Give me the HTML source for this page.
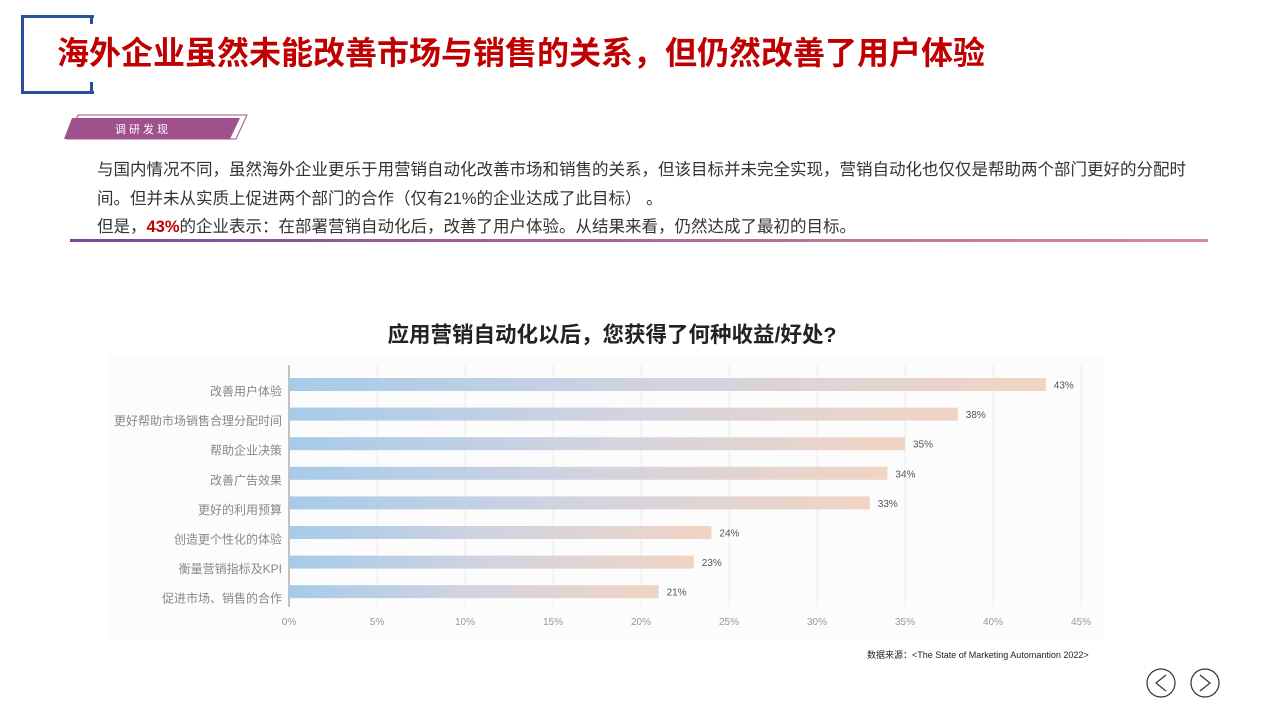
<!DOCTYPE html>
<html><head><meta charset="utf-8"><style>
body{margin:0;width:1280px;height:720px;background:#fff;position:relative;overflow:hidden;font-family:"Liberation Sans","Noto Sans CJK SC",sans-serif}
.abs{position:absolute}
</style></head><body>
<div class="abs" style="left:21px;top:15px;width:70px;height:73px;border:3px solid #2a4fa0;border-right:none"></div>
<div class="abs" style="left:90px;top:15px;width:3px;height:9px;background:#2a4fa0"></div>
<div class="abs" style="left:90px;top:82px;width:3px;height:9px;background:#2a4fa0"></div>
<div class="abs" style="left:57px;top:28px;font-size:32px;font-weight:bold;color:#c00000;white-space:nowrap">海外企业虽然未能改善市场与销售的关系，但仍然改善了用户体验</div>
<svg class="abs" style="left:60px;top:110px" width="200" height="34">
<polygon points="18,5 187,5 176,29 7,29" fill="none" stroke="#a0508a" stroke-width="1"/>
<polygon points="12,8 180,8 170,29 4,29" fill="#a0508a"/>
<text x="55" y="23" font-size="11" fill="#fff" letter-spacing="3" font-family="Liberation Sans,Noto Sans CJK SC,sans-serif">调研发现</text>
</svg>
<div class="abs" style="left:97px;top:156px;width:1112px;font-size:16.5px;line-height:28.5px;color:#333">与国内情况不同，虽然海外企业更乐于用营销自动化改善市场和销售的关系，但该目标并未完全实现，营销自动化也仅仅是帮助两个部门更好的分配时间。但并未从实质上促进两个部门的合作（仅有21%的企业达成了此目标）&nbsp;。<br>但是，<b style="color:#c00000">43%</b>的企业表示：在部署营销自动化后，改善了用户体验。从结果来看，仍然达成了最初的目标。</div>
<div class="abs" style="left:70px;top:239px;width:1138px;height:3px;background:linear-gradient(90deg,#7b4a95,#d88a9c)"></div>
<div class="abs" style="left:0;width:1224px;top:318px;text-align:center;font-size:21.5px;font-weight:bold;color:#222">应用营销自动化以后，您获得了何种收益/好处?</div>
<div class="abs" style="left:108px;top:355px;width:995px;height:285px;background:#fcfcfc"></div>
<svg id="chart" class="abs" style="left:0;top:0" width="1280" height="720">
<defs><linearGradient id="g" x1="0" x2="1" y1="0" y2="0"><stop offset="0" stop-color="#a6cbe9"/><stop offset="0.5" stop-color="#d3d3e0"/><stop offset="1" stop-color="#f1d4c3"/></linearGradient></defs>
</svg>
<div class="abs" style="left:867px;top:648px;font-size:9px;color:#222;white-space:nowrap">数据来源：&lt;The State of Marketing Automantion 2022&gt;</div>
<svg class="abs" style="left:1145px;top:667px" width="80" height="32">
<g><circle cx="16" cy="16" r="14" fill="#fff" stroke="#333" stroke-width="1.2"/><polyline points="21,8 11,16 21,24" fill="none" stroke="#333" stroke-width="1.2"/></g>
<g><circle cx="60" cy="16" r="14" fill="#fff" stroke="#333" stroke-width="1.2"/><polyline points="55,8 65,16 55,24" fill="none" stroke="#333" stroke-width="1.2"/></g>
</svg>
<script>
const categories=["改善用户体验","更好帮助市场销售合理分配时间","帮助企业决策","改善广告效果","更好的利用预算","创造更个性化的体验","衡量营销指标及KPI","促进市场、销售的合作"];
const values=[43,38,35,34,33,24,23,21];
const ticks=[0,5,10,15,20,25,30,35,40,45];
const svg=document.getElementById('chart');const NS='http://www.w3.org/2000/svg';
const x0=289,x1=1081,vmax=45,yTop=384.5,step=29.6;
const xs=v=>x0+(v/vmax)*(x1-x0);const ys=i=>yTop+i*step;
function mk(t,a){const e=document.createElementNS(NS,t);for(const k in a)e.setAttribute(k,a[k]);svg.appendChild(e);return e;}
ticks.forEach(t=>{
 const l=mk('line',{x1:xs(t),x2:xs(t),y1:365,y2:607,stroke:t?'#ececec':'#888','stroke-width':1});
 
 
 const tx=mk('text',{x:xs(t),y:625,'text-anchor':'middle','font-size':10,fill:'#999'});tx.textContent=t+'%';
 
 
});
categories.forEach((c,i)=>{
 const r=mk('rect',{x:x0+1,y:ys(i)-6.5,width:xs(values[i])-x0-1,height:13,fill:'url(#g)'});
 
 
 const lb=mk('text',{x:282,y:ys(i)+11,'text-anchor':'end','font-size':12,fill:'#888'});lb.textContent=c;
 
 
 const vl=mk('text',{x:xs(values[i])+8,y:ys(i)+4,'font-size':10,fill:'#555'});vl.textContent=values[i]+'%';
 
 
});
</script>
</body></html>
